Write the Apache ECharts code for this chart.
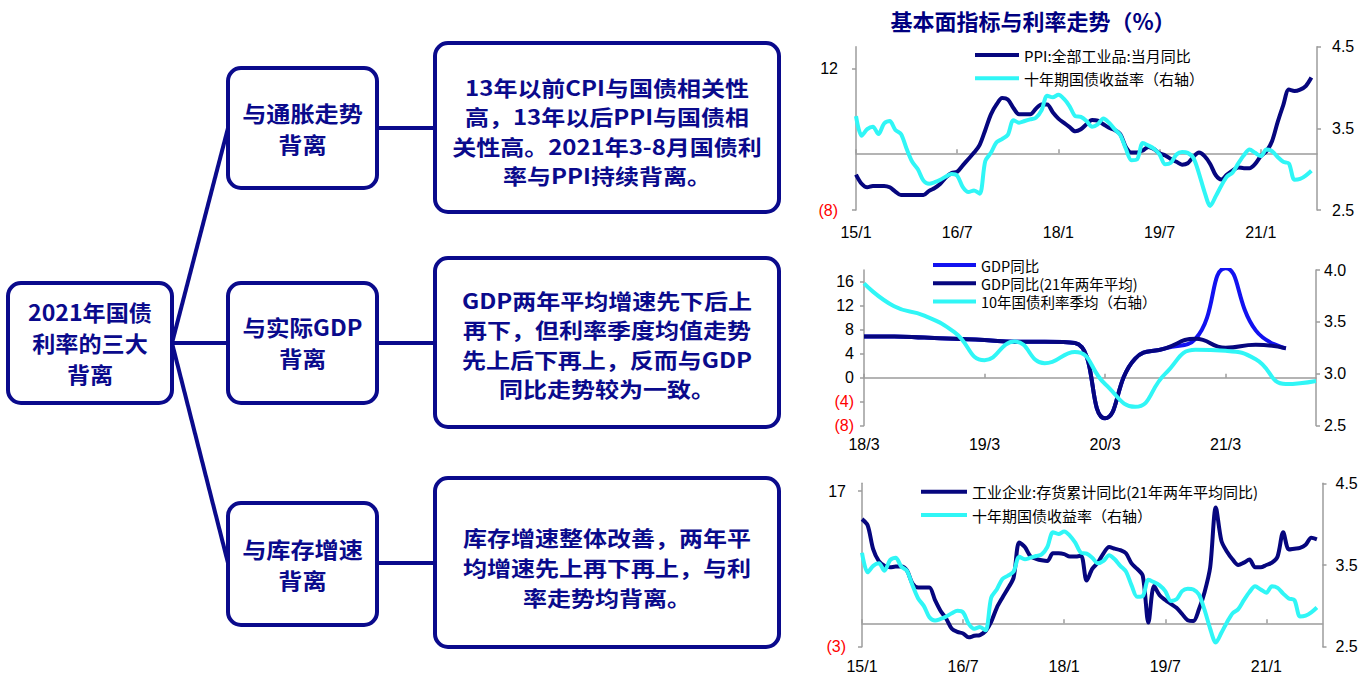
<!DOCTYPE html>
<html><head><meta charset="utf-8">
<script src="https://cdn.jsdelivr.net/npm/echarts@6/dist/echarts.min.js"></script>
<style>html,body{margin:0;padding:0;background:#fff}#c{width:1370px;height:675px}</style>
</head><body><div id="c"></div>
<script>
// ---------- DATA ----------
const months = ['15/1','15/2','15/3','15/4','15/5','15/6','15/7','15/8','15/9','15/10','15/11','15/12',
'16/1','16/2','16/3','16/4','16/5','16/6','16/7','16/8','16/9','16/10','16/11','16/12',
'17/1','17/2','17/3','17/4','17/5','17/6','17/7','17/8','17/9','17/10','17/11','17/12',
'18/1','18/2','18/3','18/4','18/5','18/6','18/7','18/8','18/9','18/10','18/11','18/12',
'19/1','19/2','19/3','19/4','19/5','19/6','19/7','19/8','19/9','19/10','19/11','19/12',
'20/1','20/2','20/3','20/4','20/5','20/6','20/7','20/8','20/9','20/10','20/11','20/12',
'21/1','21/2','21/3','21/4','21/5','21/6','21/7','21/8','21/9','21/10','21/11'];
const ppi = [-3.0,-4.3,-4.8,-4.6,-4.6,-4.6,-4.8,-5.4,-5.9,-5.9,-5.9,-5.9,-5.9,
-5.3,-4.9,-4.3,-3.4,-2.8,-2.6,-1.7,-0.8,0.1,1.2,3.3,5.5,
6.9,7.8,7.6,6.4,5.5,5.5,5.5,6.3,6.9,6.9,5.8,4.9,
4.3,3.7,3.1,3.4,4.1,4.7,4.6,4.1,3.6,3.3,2.7,0.9,
0.1,0.1,0.4,0.9,0.6,0.0,-0.3,-0.8,-1.2,-1.6,-1.4,-0.5,
0.1,-0.4,-1.5,-3.1,-3.7,-3.0,-2.4,-2.0,-2.1,-2.1,-1.5,-0.4,
0.3,1.7,4.4,6.8,9.0,8.8,9.0,9.5,10.7];
const bond10y = [3.65,3.41,3.49,3.52,3.43,3.56,3.59,3.48,3.43,3.25,
3.09,3.0,2.86,2.82,2.84,2.87,2.91,2.94,2.92,2.78,
2.72,2.74,2.7,3.1,3.2,3.33,3.37,3.42,3.6,3.57,
3.59,3.61,3.63,3.72,3.9,3.88,3.91,3.86,3.77,3.65,
3.64,3.59,3.52,3.55,3.62,3.57,3.49,3.42,3.25,3.11,
3.12,3.32,3.29,3.25,3.18,3.06,3.08,3.18,3.21,3.2,
3.14,2.95,2.72,2.55,2.67,2.8,2.91,2.96,3.07,3.17,
3.24,3.2,3.16,3.24,3.22,3.15,3.09,3.07,2.87,2.88,
2.92,2.98];
const inventory = [13.4,12.6,9.5,8.0,7.4,7.2,7.3,7.3,6.8,5.1,
4.6,4.6,4.6,3.0,1.6,0.6,-0.7,-1.1,-1.3,-1.8,
-1.6,-1.5,-1.0,0.2,2.0,3.3,4.5,5.9,10.4,9.8,
8.6,8.3,8.1,8.0,9.0,9.0,8.9,8.6,8.6,8.7,
5.5,7.0,7.8,9.0,9.8,9.6,9.4,9.0,7.7,7.0,
6.1,0.1,4.8,3.6,3.0,2.5,2.0,1.2,0.4,0.3,
1.8,4.0,7.2,14.9,10.6,9.2,8.2,7.5,7.8,8.2,
7.2,7.2,7.5,7.8,8.6,11.7,9.5,9.6,9.7,10.1,
11.0,10.8];
const quarters = ['18/3','18/6','18/9','18/12','19/3','19/6','19/9','19/12','20/3','20/6','20/9','20/12','21/3','21/6','21/9','21/12'];
const gdpYoY = [6.9,6.9,6.7,6.5,6.3,6.0,6.0,5.8,-6.8,3.2,4.9,6.5,18.3,7.9,4.9];
const gdpTwoYear = [6.9,6.9,6.7,6.5,6.3,6.0,6.0,5.8,-6.8,3.2,4.9,6.5,5.0,5.5,4.9];
const bond10yQ = [3.87,3.65,3.56,3.40,3.13,3.31,3.10,3.21,2.90,2.68,3.0,3.23,3.22,3.14,2.90,2.93];

const leftTicks1 = [-8, 12];
const rightTicks1 = [2.5, 3.5, 4.5];
const leftTicks2 = [-8, -4, 0, 4, 8, 12, 16];
const rightTicks2 = [2.5, 3.0, 3.5, 4.0];
const leftTicks3 = [-3, 17];
const rightTicks3 = [2.5, 3.5, 4.5];

const NAME_PPI = 'PPI:全部工业品:当月同比';
const NAME_Y10 = '十年期国债收益率（右轴）';
const NAME_GDP = 'GDP同比';
const NAME_GDP2 = 'GDP同比(21年两年平均)';
const NAME_Y10Q = '10年国债利率季均（右轴）';
const NAME_INV = '工业企业:存货累计同比(21年两年平均同比)';

// ---------- STYLE ----------
const NAVY = '#06067e', BLUE = '#1212f0', CYAN = '#30f6f6', GRAY = '#9c9c9c', DNAVY = '#0a0a8c';
const CJK = '"Noto Sans CJK SC", sans-serif';
const LAT = '"Liberation Sans", Arial, sans-serif';

function fmtNeg(v){ v = Number(v); return v < 0 ? '(' + (-v) + ')' : String(v); }
function colNeg(v){ return Number(v) < 0 ? '#ff0000' : '#000000'; }
function fmt1(v){ return Number(v).toFixed(1); }

function yLeft(grid, min, max, ticks, margin){
  return { type:'value', gridIndex:grid, position:'left', min:min, max:max,
    axisLine:{show:true, onZero:false, lineStyle:{color:GRAY, width:1.5}},
    axisTick:{show:true, customValues:ticks, length:4, lineStyle:{color:GRAY, width:1.5}},
    axisLabel:{customValues:ticks, formatter:fmtNeg, color:colNeg, fontSize:16, fontFamily:LAT, margin:margin},
    splitLine:{show:false} };
}
function yRight(grid, min, max, ticks, margin){
  return { type:'value', gridIndex:grid, position:'right', min:min, max:max,
    axisLine:{show:true, onZero:false, lineStyle:{color:GRAY, width:1.5}},
    axisTick:{show:true, customValues:ticks, length:4, lineStyle:{color:GRAY, width:1.5}},
    axisLabel:{customValues:ticks, formatter:fmt1, color:'#000', fontSize:16, fontFamily:LAT, margin:margin},
    splitLine:{show:false} };
}
function xLabels(grid, cats, every, margin){
  return { type:'category', gridIndex:grid, position:'bottom', data:cats, boundaryGap:false,
    axisLine:{show:false, onZero:false}, axisTick:{show:false},
    axisLabel:{interval:function(i){return i % every === 0;}, fontSize:16, fontFamily:LAT, color:'#000', margin:margin} };
}
function xZero(grid, cats, every){
  return { type:'category', gridIndex:grid, position:'bottom', data:cats, boundaryGap:false,
    axisLine:{show:true, onZero:true, lineStyle:{color:GRAY, width:1.5}},
    axisTick:{show:true, inside:true, length:4, interval:function(i){return i % every === 0;}, lineStyle:{color:GRAY, width:1.5}},
    axisLabel:{show:false} };
}
function line(name, xi, yi, data, color, smooth){
  return { name:name, type:'line', xAxisIndex:xi, yAxisIndex:yi, data:data, smooth:smooth,
    showSymbol:false, symbol:'none', lineStyle:{color:color, width:4}, itemStyle:{color:color},
    emphasis:{disabled:true}, silent:true };
}
function legend(names, left, top, iw, fs, lh, gap){
  return { data:names, orient:'vertical', left:left, top:top, padding:0, itemGap:gap,
    icon:'rect', itemWidth:iw, itemHeight:4, selectedMode:false,
    textStyle:{fontSize:fs, fontFamily:CJK, color:'#000', lineHeight:lh} };
}

// ---------- DIAGRAM ----------
const boxes = [
  {x:8, y:283, w:164, h:120, lines:['2021年国债','利率的三大','背离'], fs:21, sx:1.1, ys:[312,343,374]},
  {x:228, y:68, w:149, h:120, lines:['与通胀走势','背离'], fs:21, sx:1.15, ys:[112,143]},
  {x:228, y:283, w:149, h:120, lines:['与实际GDP','背离'], fs:21, sx:1.12, ys:[327,358]},
  {x:228, y:503, w:149, h:122, lines:['与库存增速','背离'], fs:21, sx:1.15, ys:[548,579]},
  {x:435, y:43, w:344, h:169, lines:['13年以前CPI与国债相关性','高，13年以后PPI与国债相','关性高。2021年3-8月国债利','率与PPI持续背离。'], fs:20, sx:1.2, ys:[87,116,145.5,175]},
  {x:435, y:258, w:344, h:169, lines:['GDP两年平均增速先下后上','再下，但利率季度均值走势','先上后下再上，反而与GDP','同比走势较为一致。'], fs:20, sx:1.2, ys:[300,329,358.5,388]},
  {x:435, y:478, w:344, h:169, lines:['库存增速整体改善，两年平','均增速先上再下再上，与利','率走势均背离。'], fs:20, sx:1.2, ys:[537,567,597]}
];
const links = [[172,343,228,128],[172,343,228,343],[172,343,228,563],[377,128,435,128],[377,343,435,343],[377,563,435,563]];
const graphics = [];
links.forEach(function(l){
  graphics.push({type:'line', shape:{x1:l[0],y1:l[1],x2:l[2],y2:l[3]}, style:{stroke:DNAVY, lineWidth:4}, silent:true});
});
boxes.forEach(function(b){
  graphics.push({type:'rect', shape:{x:b.x, y:b.y, width:b.w, height:b.h, r:13}, style:{fill:'#fff', stroke:DNAVY, lineWidth:4}, silent:true});
  b.lines.forEach(function(t, k){
    graphics.push({type:'text', x:b.x + b.w/2, y:b.ys[k], scaleX:b.sx, scaleY:1.05, silent:true,
      style:{text:t, fill:DNAVY, font:'bold ' + b.fs + 'px ' + CJK, align:'center', verticalAlign:'middle'}});
  });
});
graphics.push({type:'text', x:1033, y:20, silent:true,
  style:{text:'基本面指标与利率走势（%）', fill:'#000080', font:'bold 22px ' + CJK, align:'center', verticalAlign:'middle'}});

const option = {
  animation:false,
  backgroundColor:'#fff',
  grid:[
    {left:856, top:46.7, width:461, height:163.3, outerBoundsMode:'none'},
    {left:864, top:270, width:452, height:155.5, outerBoundsMode:'none'},
    {left:862, top:483.3, width:460.5, height:163.4, outerBoundsMode:'none'}
  ],
  xAxis:[
    xLabels(0, months, 18, 14), xZero(0, months, 18),
    xLabels(1, quarters, 4, 11), xZero(1, quarters, 4),
    xLabels(2, months, 18, 12), xZero(2, months, 18)
  ],
  yAxis:[
    yLeft(0, -8, 15.05, leftTicks1, 18), yRight(0, 2.5, 4.5, rightTicks1, 15),
    yLeft(1, -8, 18, leftTicks2, 10), yRight(1, 2.5, 4.0, rightTicks2, 8),
    yLeft(2, -3, 18, leftTicks3, 16), yRight(2, 2.5, 4.5, rightTicks3, 13)
  ],
  legend:[
    legend([NAME_PPI, NAME_Y10], 975, 46, 44, 15, 18, 5.3),
    legend([NAME_GDP, NAME_GDP2, NAME_Y10Q], 933, 257, 43, 14.5, 16, 2.3),
    legend([NAME_INV, NAME_Y10], 921, 482.7, 46, 15, 18, 5.3)
  ],
  series:[
    line(NAME_PPI, 0, 0, ppi, NAVY, 0.3),
    line(NAME_Y10, 0, 1, bond10y, CYAN, 0.3),
    line(NAME_GDP, 2, 2, gdpYoY, BLUE, 0.5),
    line(NAME_GDP2, 2, 2, gdpTwoYear, NAVY, 0.5),
    line(NAME_Y10Q, 2, 3, bond10yQ, CYAN, 0.5),
    line(NAME_INV, 4, 4, inventory, NAVY, 0.3),
    line(NAME_Y10, 4, 5, bond10y, CYAN, 0.3)
  ],
  graphic:graphics
};
const chart = echarts.init(document.getElementById('c'), null, {renderer:'svg'});
chart.setOption(option);
</script></body></html>
